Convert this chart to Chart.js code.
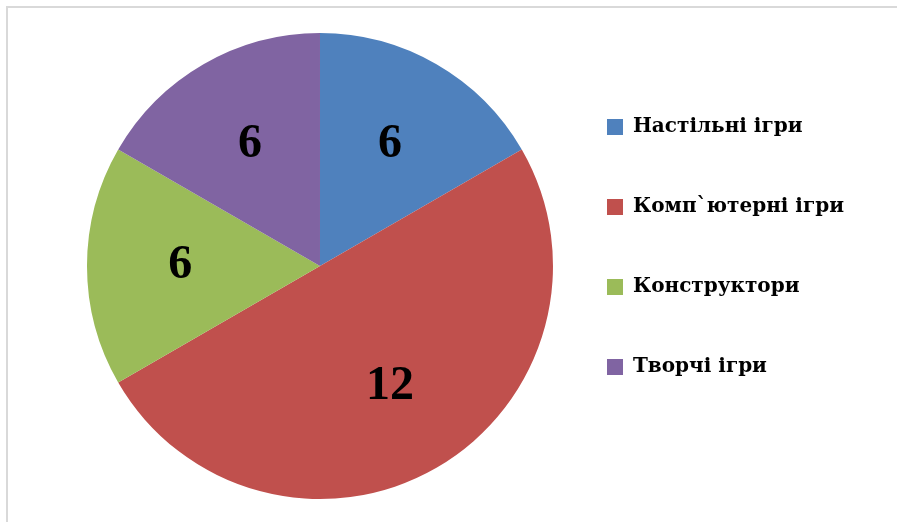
<!DOCTYPE html>
<html>
<head>
<meta charset="utf-8">
<script src="https://cdn.jsdelivr.net/npm/chart.js@4"></script>
<style>
    html, body { margin: 0; padding: 0; background: #fff; }
    #wrap { position: relative; width: 897px; height: 522px; overflow: hidden; }
    #frame { position: absolute; left: 6px; top: 6px; width: 920px; height: 540px; border: 2px solid #d9d9d9; box-sizing: border-box; }
    #chart { position: absolute; left: 0; top: 0; }
</style>
</head>
<body>
<div id="wrap">
    <div id="frame"></div>
    <canvas id="chart" width="897" height="522"></canvas>
</div>
<script>
// Kategorie i dane
const categories = ['Настільні ігри', 'Комп`ютерні ігри', 'Конструктори', 'Творчі ігри'];
// wielkości wycinków (kąty na obrazku: 60°, 180°, 60°, 60°)
const sliceValues = [6, 18, 6, 6];
// etykiety wydrukowane na wycinkach
const valueLabels = ['6', '12', '6', '6'];
const colors = ['#4F81BD', '#C0504D', '#9BBB59', '#8064A2'];

// Prosty plugin do rysowania etykiet na wycinkach
const sliceLabels = {
    id: 'sliceLabels',
    afterDatasetsDraw(chart) {
        const ctx = chart.ctx;
        const meta = chart.getDatasetMeta(0);
        ctx.save();
        ctx.font = 'bold 48px "Liberation Serif"';
        ctx.fillStyle = '#000';
        ctx.textAlign = 'center';
        ctx.textBaseline = 'middle';
        meta.data.forEach((arc, i) => {
            const p = arc.getProps(['x', 'y', 'startAngle', 'endAngle', 'outerRadius']);
            const mid = (p.startAngle + p.endAngle) / 2;
            const r = p.outerRadius * 0.6;
            ctx.fillText(valueLabels[i], p.x + Math.cos(mid) * r, p.y + Math.sin(mid) * r);
        });
        ctx.restore();
    }
};

new Chart(document.getElementById('chart'), {
    type: 'pie',
    data: {
        labels: categories,
        datasets: [{
            data: sliceValues,
            backgroundColor: colors,
            borderWidth: 0
        }]
    },
    options: {
        responsive: false,
        animation: false,
        radius: 233,
        layout: { padding: { left: 93, right: 43, top: 33, bottom: 23 } },
        plugins: {
            tooltip: { enabled: false },
            legend: {
                position: 'right',
                align: 'start',
                // pusty tytuł przesuwa wpisy legendy w dół
                title: { display: true, text: ' ', padding: 0, font: { size: 20, lineHeight: 1.2 } },
                labels: {
                    boxWidth: 16,
                    boxHeight: 16,
                    padding: 60,
                    color: '#000',
                    font: { family: '"DejaVu Serif"', size: 20, weight: 'bold' }
                }
            }
        }
    },
    plugins: [sliceLabels]
});
</script>
</body>
</html>
